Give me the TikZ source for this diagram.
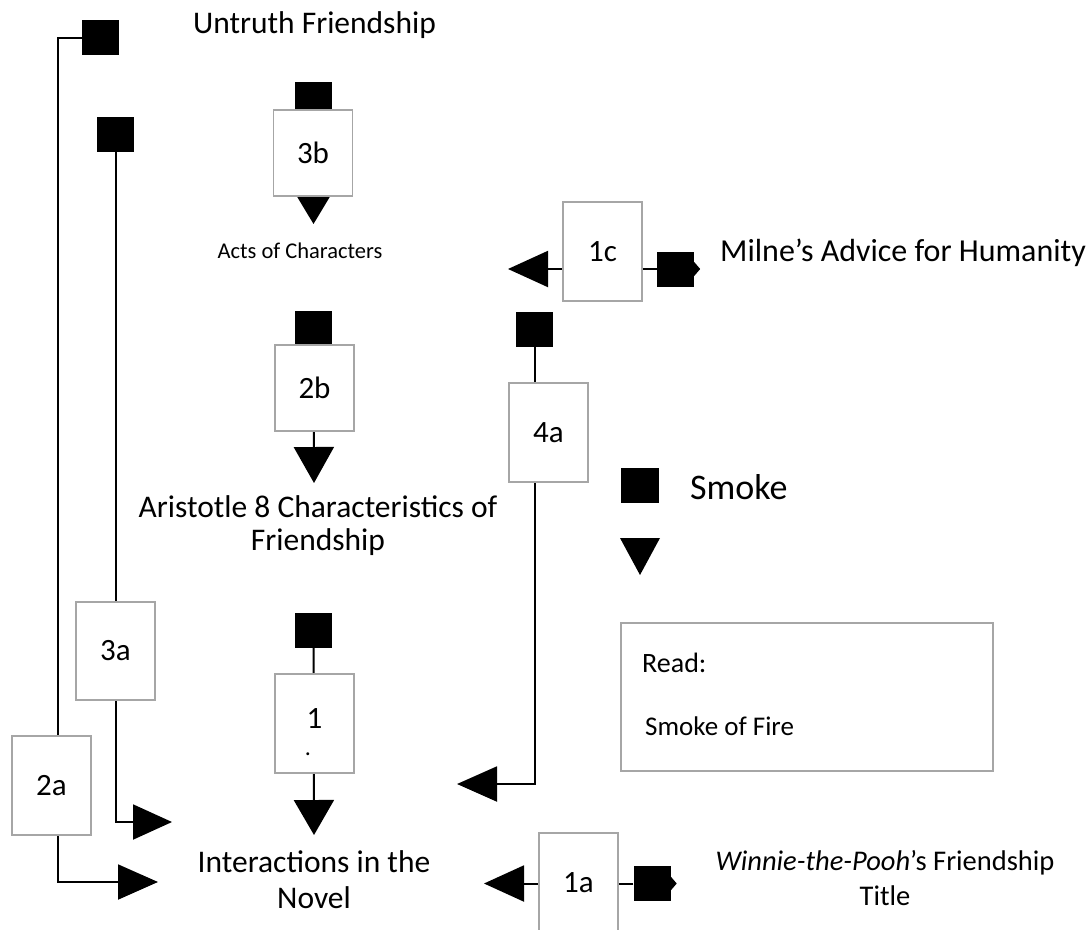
\documentclass[tikz,border=0pt]{standalone}
\usepackage{fontspec}
\setmainfont{Carlito}
\usetikzlibrary{arrows.meta,calc}
\pgfdeclarelayer{bg}
\pgfsetlayers{bg,main}
\definecolor{boxgray}{RGB}{166,166,166}
\newcommand\fsz[2]{\fontsize{#1}{#2}\selectfont}
\begin{document}
\begin{tikzpicture}[x=1pt,y=-1pt,
  numbox/.style={draw=boxgray, line width=1.5pt, fill=white, minimum width=79pt, minimum height=99pt, inner sep=0pt, font=\fsz{31}{35}},
  smk/.style={fill=black, minimum width=37pt, minimum height=35pt, inner sep=0pt},
  con/.style={line width=2pt, draw=black},
  fire/.style={con, -{Triangle[length=40pt,width=35pt]}},
  lbl/.style={inner sep=0pt, font=\fsz{31.5}{36}, align=center},
  nub/.style={fill=black}]
\useasboundingbox (0,0) rectangle (1092,929);
\clip (0,0) rectangle (1092,929);

% top text
\node[lbl, anchor=base] (untruth) at (314.5,33) {Untruth Friendship};

% smoke squares (drawn before boxes)
\node[smk] (sqA) at (100.5,37.5) {};
\node[smk] (sq3a) at (115.5,134.5) {};
\node[smk] (sq3b) at (313.5,99.5) {};
\node[smk] (sq2b) at (313.5,328) {};
\node[smk] (sq4a) at (534.5,329.5) {};
\node[smk] (sq1) at (313.5,630.5) {};
\node[smk] (sq1c) at (675.5,269) {};
\node[smk] (sq1a) at (652,883.5) {};
\fill[nub] ($(sq1c.east)+(0,-7)$) -- ($(sq1c.east)+(6,0)$) -- ($(sq1c.east)+(0,7)$) -- cycle;
\fill[nub] ($(sq1a.east)+(0,-7)$) -- ($(sq1a.east)+(6,0)$) -- ($(sq1a.east)+(0,7)$) -- cycle;

% boxes
\node[numbox, minimum height=86pt] (b3b) at (313,153) {3b};
\node[numbox] (b1c) at (602.5,251.5) {1c};
\node[numbox, minimum height=86pt] (b2b) at (314.5,388) {2b};
\node[numbox] (b4a) at (548.5,432.5) {4a};
\node[numbox, minimum height=98pt] (b3a) at (115.5,651) {3a};
\node[numbox] (b2a) at (51.5,785.5) {2a};
\node[numbox] (b1) at (314.5,723.5) {};
\node[inner sep=0pt, font=\fsz{31}{35}] (b1t) at (314.5,719) {1};
\node[inner sep=0pt, font=\fsz{24}{28}, anchor=base] (b1d) at (308,755) {.};
\node[numbox] (b1a) at (578.5,882.5) {1a};

% texts
\node[inner sep=0pt, font=\fsz{22.5}{26}, anchor=base] (acts) at (300,258) {Acts of Characters};
\node[lbl, font=\fsz{32}{36}, anchor=base west] (milne) at (720,261) {Milne’s Advice for Humanity};
\node[lbl, font=\fsz{31.5}{33}, anchor=base] (arist) at (318,550) {Aristotle 8 Characteristics of\\Friendship};
\node[lbl, anchor=base] (inter) at (314,908) {Interactions in the\\Novel};
\node[lbl, font=\fsz{28.5}{35}, anchor=base] (winnie) at (885,905) {\textit{Winnie-the-Pooh}’s Friendship\\Title};

% legend
\node[smk, minimum width=38pt] (legsq) at (640,485.5) {};
\node[inner sep=0pt, font=\fsz{36}{40}, anchor=base west] (smoke) at (690,499) {Smoke};
\fill (620,538) -- (660,538) -- (640,575) -- cycle;
\node[draw=boxgray, line width=1.5pt, minimum width=372pt, minimum height=148pt, inner sep=0pt] (read) at (807,697) {};
\node[inner sep=0pt, font=\fsz{28}{32}, anchor=base west] (readl) at (642,672) {Read:};
\node[inner sep=0pt, font=\fsz{27}{32}, anchor=base west] (sof) at (645,735) {Smoke of Fire};

% arrow end coordinates
\coordinate (t2a) at (158,882);
\coordinate (k2a) at (58,882);
\coordinate (t3a) at (172,822);
\coordinate (t3b) at (313.5,224);
\coordinate (t2b) at (314,483);
\coordinate (t4a) at (457,784);
\coordinate (t1) at (314,835);
\coordinate (t1c) at (508,269);
\coordinate (t1a) at (484,883.5);

\begin{pgfonlayer}{bg}
\draw[fire] (sqA.west) -| (k2a) -- (t2a);
\draw[con, -{Triangle[length=39pt,width=35pt]}] (sq3a.south) |- (t3a);
\draw[con, -{Triangle[length=27pt,width=32pt]}] (sq3b.south) -- (t3b);
\draw[con, -{Triangle[length=36pt,width=40pt]}] (sq2b.south) -- (t2b);
\draw[con, -{Triangle[length=40pt,width=35pt]}] (sq4a.south) |- (t4a);
\draw[con, -{Triangle[length=35pt,width=40pt]}] (sq1.south) -- (t1);
\draw[con, -{Triangle[length=40pt,width=36pt]}] (sq1c.west) -- (t1c);
\draw[con, -{Triangle[length=40pt,width=36pt]}] (sq1a.west) -- (t1a);
\end{pgfonlayer}
\end{tikzpicture}
\end{document}
